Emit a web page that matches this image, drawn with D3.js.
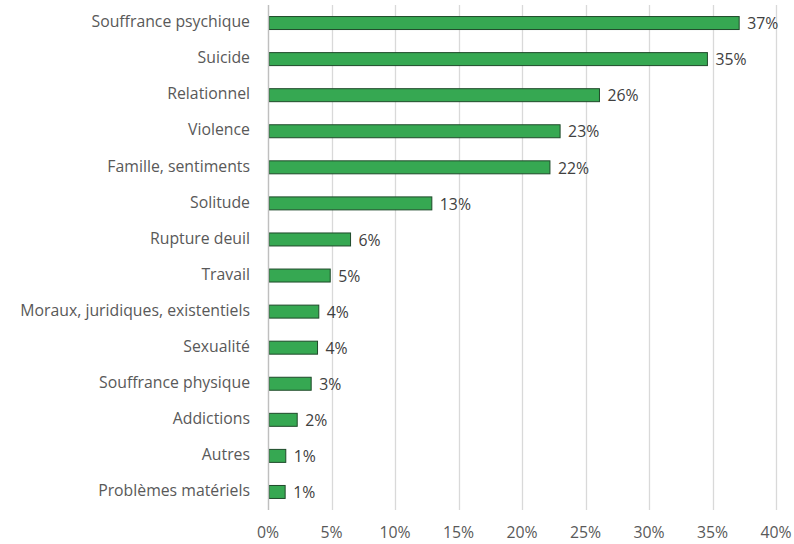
<!DOCTYPE html>
<html>
<head>
<meta charset="utf-8">
<script src="https://cdn.jsdelivr.net/npm/d3@7"></script>
<style>
  body { margin: 0; background: #fff; }
  text { font-family: "Open Sans", "Noto Sans", sans-serif; }
  .cat-label, .tick-label { fill: #595959; font-size: 15.8px; }
  .value-label { fill: #404040; font-size: 15.8px; }
</style>
</head>
<body>
<svg id="chart"></svg>
<script>
var width = 794;
var height = 544;
var margin = {
  top: 5,
  bottom: 34,
  left: 268,
  right: 18
};

var categories = ['Souffrance psychique', 'Suicide', 'Relationnel', 'Violence', 'Famille, sentiments',
  'Solitude', 'Rupture deuil', 'Travail', 'Moraux, juridiques, existentiels', 'Sexualité',
  'Souffrance physique', 'Addictions', 'Autres', 'Problèmes matériels'];
var values = [37.1, 34.6, 26.1, 23.0, 22.2, 12.9, 6.5, 4.9, 4.0, 3.9, 3.4, 2.3, 1.4, 1.35];
var valueLabels = ['37%', '35%', '26%', '23%', '22%', '13%', '6%', '5%', '4%', '4%', '3%', '2%', '1%', '1%'];
var tickValues = [0, 5, 10, 15, 20, 25, 30, 35, 40];

var svg = d3.select('#chart').attr('width', width).attr('height', height);

var x = d3.scaleLinear().domain([0, 40]).range([margin.left, width - margin.right]);
var y = d3.scaleBand().domain(categories).range([margin.top, height - margin.bottom]).paddingInner(0.64).paddingOuter(0.32);

// gridlines
svg.append('g').selectAll('line').data(tickValues).enter()
  .append('line')
  .attr('x1', function(d) { return Math.round(x(d)) + 0.5; })
  .attr('x2', function(d) { return Math.round(x(d)) + 0.5; })
  .attr('y1', margin.top)
  .attr('y2', height - margin.bottom)
  .attr('stroke', '#d9d9d9')
  .attr('stroke-width', 1.3);

// tick labels
svg.append('g').selectAll('text').data(tickValues).enter()
  .append('text')
  .classed('tick-label', true)
  .attr('x', function(d) { return x(d); })
  .attr('y', height - 6)
  .style('text-anchor', 'middle')
  .text(function(d) { return d + '%'; });

// bars
svg.append('g').selectAll('rect').data(values).enter()
  .append('rect')
  .attr('x', x(0) + 1)
  .attr('y', function(d, i) { return y(categories[i]); })
  .attr('width', function(d) { return x(d) - x(0) - 1; })
  .attr('height', y.bandwidth())
  .attr('fill', '#36a852')
  .attr('stroke', '#1f4a2a')
  .attr('stroke-width', 1);

// category labels
svg.append('g').selectAll('text').data(categories).enter()
  .append('text')
  .classed('cat-label', true)
  .attr('x', margin.left - 18)
  .attr('y', function(d) { return y(d) + y.bandwidth() / 2; })
  .style('text-anchor', 'end')
  .style('dominant-baseline', 'middle')
  .text(function(d) { return d; });

// value labels
svg.append('g').selectAll('text').data(values).enter()
  .append('text')
  .classed('value-label', true)
  .attr('x', function(d) { return x(d) + 8; })
  .attr('y', function(d, i) { return y(categories[i]) + y.bandwidth() / 2 + 2; })
  .style('dominant-baseline', 'middle')
  .text(function(d, i) { return valueLabels[i]; });

// axis line
svg.append('line')
  .attr('x1', x(0) + 0.5).attr('x2', x(0) + 0.5)
  .attr('y1', margin.top).attr('y2', height - margin.bottom)
  .attr('stroke', '#bfbfbf')
  .attr('stroke-width', 1.3);
</script>
</body>
</html>
